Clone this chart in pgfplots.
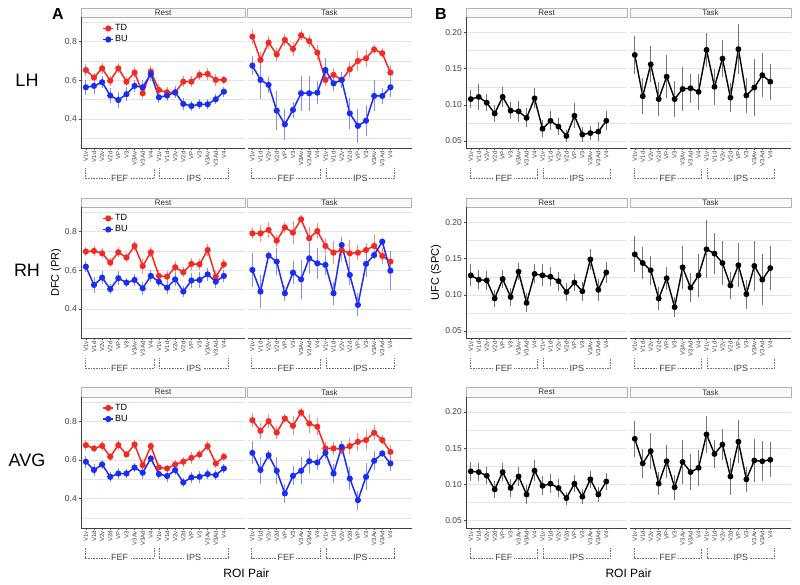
\documentclass[border=0pt]{standalone}
\usepackage{fontspec}
\setmainfont{Liberation Sans}
\usepackage{pgfplots}
\usepackage{pgfplotstable}
\pgfplotsset{compat=1.18}

\definecolor{tdred}{RGB}{245,40,35}
\definecolor{bublue}{RGB}{25,45,245}

% ---- panel A: DFC (PR), TD and BU with error ----
\pgfplotstableread{
x td tde bu bue
0 0.653 0.030 0.564 0.040
1 0.614 0.025 0.571 0.040
2 0.662 0.030 0.590 0.030
3 0.598 0.025 0.521 0.040
4 0.662 0.025 0.498 0.040
5 0.593 0.025 0.528 0.035
6 0.640 0.030 0.571 0.030
7 0.533 0.025 0.564 0.040
8 0.645 0.030 0.633 0.035
9 0.550 0.030 0.512 0.030
10 0.538 0.025 0.521 0.030
11 0.536 0.025 0.538 0.030
12 0.593 0.030 0.478 0.030
13 0.593 0.030 0.467 0.025
14 0.628 0.025 0.476 0.025
15 0.633 0.030 0.476 0.025
16 0.602 0.030 0.502 0.025
17 0.602 0.020 0.541 0.025
}\ALHrest
\pgfplotstableread{
x td tde bu bue
0 0.826 0.040 0.676 0.050
1 0.705 0.040 0.602 0.100
2 0.795 0.035 0.576 0.040
3 0.734 0.035 0.443 0.100
4 0.809 0.030 0.372 0.080
5 0.762 0.035 0.447 0.040
6 0.833 0.025 0.533 0.090
7 0.803 0.030 0.533 0.090
8 0.743 0.040 0.536 0.060
9 0.602 0.030 0.653 0.060
10 0.628 0.035 0.584 0.040
11 0.602 0.020 0.602 0.040
12 0.657 0.040 0.429 0.080
13 0.700 0.050 0.364 0.090
14 0.714 0.045 0.391 0.080
15 0.760 0.025 0.519 0.080
16 0.740 0.025 0.519 0.040
17 0.640 0.040 0.564 0.050
}\ALHtask
\pgfplotstableread{
x td tde bu bue
0 0.697 0.025 0.619 0.030
1 0.700 0.025 0.524 0.040
2 0.688 0.025 0.562 0.035
3 0.640 0.025 0.503 0.025
4 0.693 0.025 0.559 0.035
5 0.666 0.025 0.536 0.025
6 0.726 0.025 0.550 0.030
7 0.622 0.040 0.507 0.035
8 0.693 0.025 0.571 0.030
9 0.571 0.030 0.541 0.030
10 0.567 0.030 0.510 0.035
11 0.616 0.030 0.553 0.035
12 0.590 0.025 0.490 0.030
13 0.633 0.030 0.547 0.040
14 0.631 0.030 0.550 0.040
15 0.705 0.030 0.579 0.035
16 0.567 0.030 0.541 0.035
17 0.631 0.025 0.571 0.030
}\ARHrest
\pgfplotstableread{
x td tde bu bue
0 0.791 0.030 0.602 0.090
1 0.791 0.045 0.490 0.085
2 0.809 0.040 0.676 0.025
3 0.753 0.030 0.645 0.070
4 0.822 0.030 0.481 0.040
5 0.795 0.060 0.588 0.060
6 0.864 0.020 0.553 0.100
7 0.766 0.060 0.662 0.080
8 0.803 0.040 0.636 0.080
9 0.726 0.040 0.628 0.050
10 0.691 0.060 0.481 0.060
11 0.705 0.060 0.731 0.040
12 0.688 0.070 0.576 0.050
13 0.691 0.040 0.421 0.060
14 0.705 0.035 0.633 0.070
15 0.726 0.060 0.679 0.020
16 0.674 0.040 0.748 0.020
17 0.645 0.055 0.598 0.100
}\ARHtask
\pgfplotstableread{
x td tde bu bue
0 0.676 0.025 0.590 0.030
1 0.659 0.020 0.547 0.030
2 0.672 0.025 0.576 0.025
3 0.616 0.020 0.512 0.025
4 0.676 0.025 0.529 0.030
5 0.628 0.020 0.529 0.025
6 0.679 0.025 0.560 0.025
7 0.572 0.030 0.533 0.030
8 0.671 0.020 0.607 0.020
9 0.560 0.025 0.526 0.025
10 0.555 0.020 0.516 0.030
11 0.576 0.025 0.547 0.025
12 0.590 0.025 0.483 0.025
13 0.610 0.030 0.509 0.030
14 0.628 0.025 0.512 0.030
15 0.671 0.025 0.526 0.025
16 0.581 0.025 0.521 0.025
17 0.616 0.020 0.555 0.025
}\AAVGrest
\pgfplotstableread{
x td tde bu bue
0 0.805 0.035 0.636 0.060
1 0.750 0.040 0.547 0.070
2 0.800 0.035 0.624 0.025
3 0.741 0.035 0.543 0.070
4 0.814 0.025 0.426 0.050
5 0.776 0.050 0.517 0.050
6 0.845 0.025 0.543 0.070
7 0.788 0.050 0.593 0.060
8 0.771 0.045 0.586 0.040
9 0.659 0.035 0.636 0.030
10 0.659 0.035 0.529 0.050
11 0.655 0.030 0.667 0.030
12 0.671 0.040 0.503 0.060
13 0.693 0.045 0.391 0.050
14 0.702 0.050 0.512 0.070
15 0.740 0.040 0.595 0.050
16 0.702 0.025 0.633 0.020
17 0.641 0.035 0.581 0.040
}\AAVGtask

% ---- panel B: UFC (SPC) ----
\pgfplotstableread{
x m e
0 0.108 0.013
1 0.111 0.018
2 0.103 0.012
3 0.088 0.012
4 0.111 0.014
5 0.092 0.012
6 0.091 0.014
7 0.082 0.013
8 0.109 0.014
9 0.067 0.012
10 0.078 0.013
11 0.070 0.012
12 0.057 0.008
13 0.085 0.017
14 0.059 0.010
15 0.061 0.010
16 0.063 0.013
17 0.078 0.013
}\BLHrest
\pgfplotstableread{
x m e
0 0.169 0.026
1 0.112 0.025
2 0.156 0.025
3 0.108 0.023
4 0.139 0.030
5 0.108 0.025
6 0.122 0.030
7 0.123 0.020
8 0.118 0.025
9 0.176 0.024
10 0.125 0.025
11 0.164 0.025
12 0.110 0.020
13 0.177 0.035
14 0.113 0.024
15 0.124 0.040
16 0.141 0.030
17 0.132 0.025
}\BLHtask
\pgfplotstableread{
x m e
0 0.127 0.015
1 0.121 0.013
2 0.120 0.013
3 0.095 0.012
4 0.122 0.013
5 0.097 0.013
6 0.132 0.012
7 0.089 0.013
8 0.129 0.013
9 0.127 0.015
10 0.125 0.013
11 0.119 0.013
12 0.104 0.012
13 0.117 0.012
14 0.105 0.013
15 0.149 0.014
16 0.107 0.015
17 0.131 0.014
}\BRHrest
\pgfplotstableread{
x m e
0 0.156 0.025
1 0.144 0.022
2 0.134 0.020
3 0.095 0.016
4 0.123 0.016
5 0.083 0.014
6 0.138 0.030
7 0.110 0.020
8 0.127 0.030
9 0.163 0.040
10 0.157 0.028
11 0.144 0.030
12 0.113 0.018
13 0.141 0.030
14 0.101 0.020
15 0.140 0.035
16 0.121 0.035
17 0.137 0.030
}\BRHtask
\pgfplotstableread{
x m e
0 0.118 0.013
1 0.117 0.013
2 0.112 0.012
3 0.093 0.012
4 0.117 0.012
5 0.095 0.012
6 0.111 0.013
7 0.086 0.013
8 0.119 0.014
9 0.098 0.013
10 0.101 0.013
11 0.095 0.012
12 0.081 0.009
13 0.101 0.012
14 0.083 0.010
15 0.107 0.012
16 0.086 0.010
17 0.104 0.012
}\BAVGrest
\pgfplotstableread{
x m e
0 0.163 0.025
1 0.129 0.020
2 0.146 0.025
3 0.101 0.016
4 0.132 0.023
5 0.096 0.017
6 0.131 0.030
7 0.117 0.025
8 0.123 0.025
9 0.169 0.025
10 0.142 0.020
11 0.155 0.022
12 0.111 0.025
13 0.159 0.030
14 0.107 0.017
15 0.133 0.030
16 0.132 0.028
17 0.134 0.024
}\BAVGtask

\tikzset{
  axisline/.style={black!75, line width=0.6pt},
  brk/.style={densely dotted, black!55, line width=0.6pt},
  brktext/.style={fill=white, inner sep=1.5pt, text=black!75, font=\fontsize{9}{9}\selectfont},
}

\pgfplotsset{
  facet/.style={
    scale only axis, anchor=north west, clip=false,
    height=131pt,
    axis line style={draw=none},
    xmin=-0.6, xmax=19.6,
    xtick={0,...,17},
    xticklabels={V1v,V1d,V2v,V2d,VP,V3,V3Av,V3Ad,V4,V1v,V1d,V2v,V2d,VP,V3,V3Av,V3Ad,V4},
    xtick pos=bottom, ytick pos=left,
    tick align=outside, major tick length=2pt, minor tick length=0pt,
    tick style={black!70, line width=0.5pt},
    xticklabel style={rotate=90, anchor=east, font=\fontsize{6}{6}\selectfont, text=black!75, inner sep=1pt},
    yticklabel style={font=\fontsize{8.5}{9}\selectfont, text=black!75, inner sep=2pt},
    ymajorgrids, yminorgrids,
    major grid style={gray!22, line width=0.5pt},
    minor grid style={gray!22, line width=0.5pt},
    /pgf/number format/assume math mode=true,
    legend style={at={(0.13,0.955)}, anchor=north west, draw=none, fill=none,
      font=\fontsize{9}{9}\selectfont, inner sep=0pt, row sep=1pt,
      nodes={inner sep=1.2pt}},
    legend cell align=left,
    legend image code/.code={\draw[mark repeat=2,mark phase=2,##1] plot coordinates {(0pt,0pt) (5pt,0pt) (10pt,0pt)};},
  },
  facetA/.style={facet, width=164pt,
    ymin=0.248, ymax=0.926,
    ytick={0.4,0.6,0.8}, minor ytick={0.3,0.5,0.7,0.9},
    y tick label style={/pgf/number format/.cd, fixed, fixed zerofill, precision=1, /tikz/.cd}},
  facetB/.style={facet, width=161pt,
    ymin=0.04, ymax=0.221,
    ytick={0.05,0.10,0.15,0.20}, minor ytick={0.075,0.125,0.175},
    y tick label style={/pgf/number format/.cd, fixed, fixed zerofill, precision=2, /tikz/.cd}},
  rest/.style={after end axis/.append code={\draw[axisline] (rel axis cs:0,0) -- (rel axis cs:0,1);}},
  task/.style={yticklabels={}, ytick style={draw=none}},
  td/.style={color=tdred, line width=1.5pt, mark=*, mark size=2.3pt,
    error bars/.cd, y dir=both, y explicit, error mark=none,
    error bar style={tdred!55, line width=0.9pt}},
  bu/.style={color=bublue, line width=1.5pt, mark=*, mark size=2.3pt,
    error bars/.cd, y dir=both, y explicit, error mark=none,
    error bar style={bublue!55, line width=0.9pt}},
  fc/.style={color=black, line width=1.4pt, mark=*, mark size=2.2pt,
    error bars/.cd, y dir=both, y explicit, error mark=none,
    error bar style={black!55, line width=0.8pt}},
}

% facet strip on top of the panel
\newcommand\strip[1]{%
  \draw[gray!60, fill=gray!5, line width=0.5pt] (rel axis cs:0,1) rectangle ([yshift=9.3pt]rel axis cs:1,1);
  \node[font=\fontsize{8}{8}\selectfont, text=black!80] at ([yshift=4.65pt]rel axis cs:0.5,1) {#1};
  \draw[axisline] (rel axis cs:0,0) -- (rel axis cs:1,0);
}
% FEF / IPS brackets under the tick labels, #1 = ymin
\newcommand\roibrk[1]{%
  \draw[brk] ([yshift=-20pt]axis cs:-0.1,#1) |- ([yshift=-30pt]axis cs:8.4,#1) -- ([yshift=-20pt]axis cs:8.4,#1);
  \draw[brk] ([yshift=-20pt]axis cs:9.05,#1) |- ([yshift=-30pt]axis cs:17.5,#1) -- ([yshift=-20pt]axis cs:17.5,#1);
  \node[brktext] at ([yshift=-30pt]axis cs:4.15,#1) {FEF};
  \node[brktext] at ([yshift=-30pt]axis cs:13.3,#1) {IPS};
}
\newcommand\facetA[5]{%
  \begin{axis}[facetA, at={(#1pt,-#2pt)}, #4]
    \addplot[td] table[x=x, y=td, y error=tde] {#3};
    \addplot[bu] table[x=x, y=bu, y error=bue] {#3};
    \strip{#5}
    \roibrk{0.248}
  \end{axis}}
\newcommand\facetB[5]{%
  \begin{axis}[facetB, at={(#1pt,-#2pt)}, #4]
    \addplot[fc] table[x=x, y=m, y error=e] {#3};
    \strip{#5}
    \roibrk{0.04}
  \end{axis}}

\begin{document}
\begin{tikzpicture}
\useasboundingbox (0pt,0pt) rectangle (800pt,-584pt);

\facetA{81}{17.3}{\ALHrest}{rest, legend entries={TD,BU}}{Rest}
\facetA{247.5}{17.3}{\ALHtask}{task}{Task}
\facetA{81}{207.3}{\ARHrest}{rest, legend entries={TD,BU}}{Rest}
\facetA{247.5}{207.3}{\ARHtask}{task}{Task}
\facetA{81}{396.8}{\AAVGrest}{rest, legend entries={TD,BU}}{Rest}
\facetA{247.5}{396.8}{\AAVGtask}{task}{Task}

\facetB{466}{17.3}{\BLHrest}{rest}{Rest}
\facetB{630}{17.3}{\BLHtask}{task}{Task}
\facetB{466}{207.3}{\BRHrest}{rest}{Rest}
\facetB{630}{207.3}{\BRHtask}{task}{Task}
\facetB{466}{396.8}{\BAVGrest}{rest}{Rest}
\facetB{630}{396.8}{\BAVGtask}{task}{Task}

\node[font=\fontsize{16}{16}\selectfont\bfseries] at (58pt,-14pt) {A};
\node[font=\fontsize{16}{16}\selectfont\bfseries] at (441pt,-14pt) {B};
\node[font=\fontsize{18}{18}\selectfont] at (27pt,-80pt) {LH};
\node[font=\fontsize{18}{18}\selectfont] at (27pt,-270pt) {RH};
\node[font=\fontsize{18}{18}\selectfont] at (27pt,-460pt) {AVG};
\node[rotate=90, font=\fontsize{11}{11}\selectfont] at (56pt,-272.8pt) {DFC (PR)};
\node[rotate=90, font=\fontsize{11}{11}\selectfont] at (436pt,-272.8pt) {UFC (SPC)};
\node[font=\fontsize{12}{12}\selectfont] at (246.5pt,-573pt) {ROI Pair};
\node[font=\fontsize{12}{12}\selectfont] at (628.5pt,-573pt) {ROI Pair};
\end{tikzpicture}
\end{document}
